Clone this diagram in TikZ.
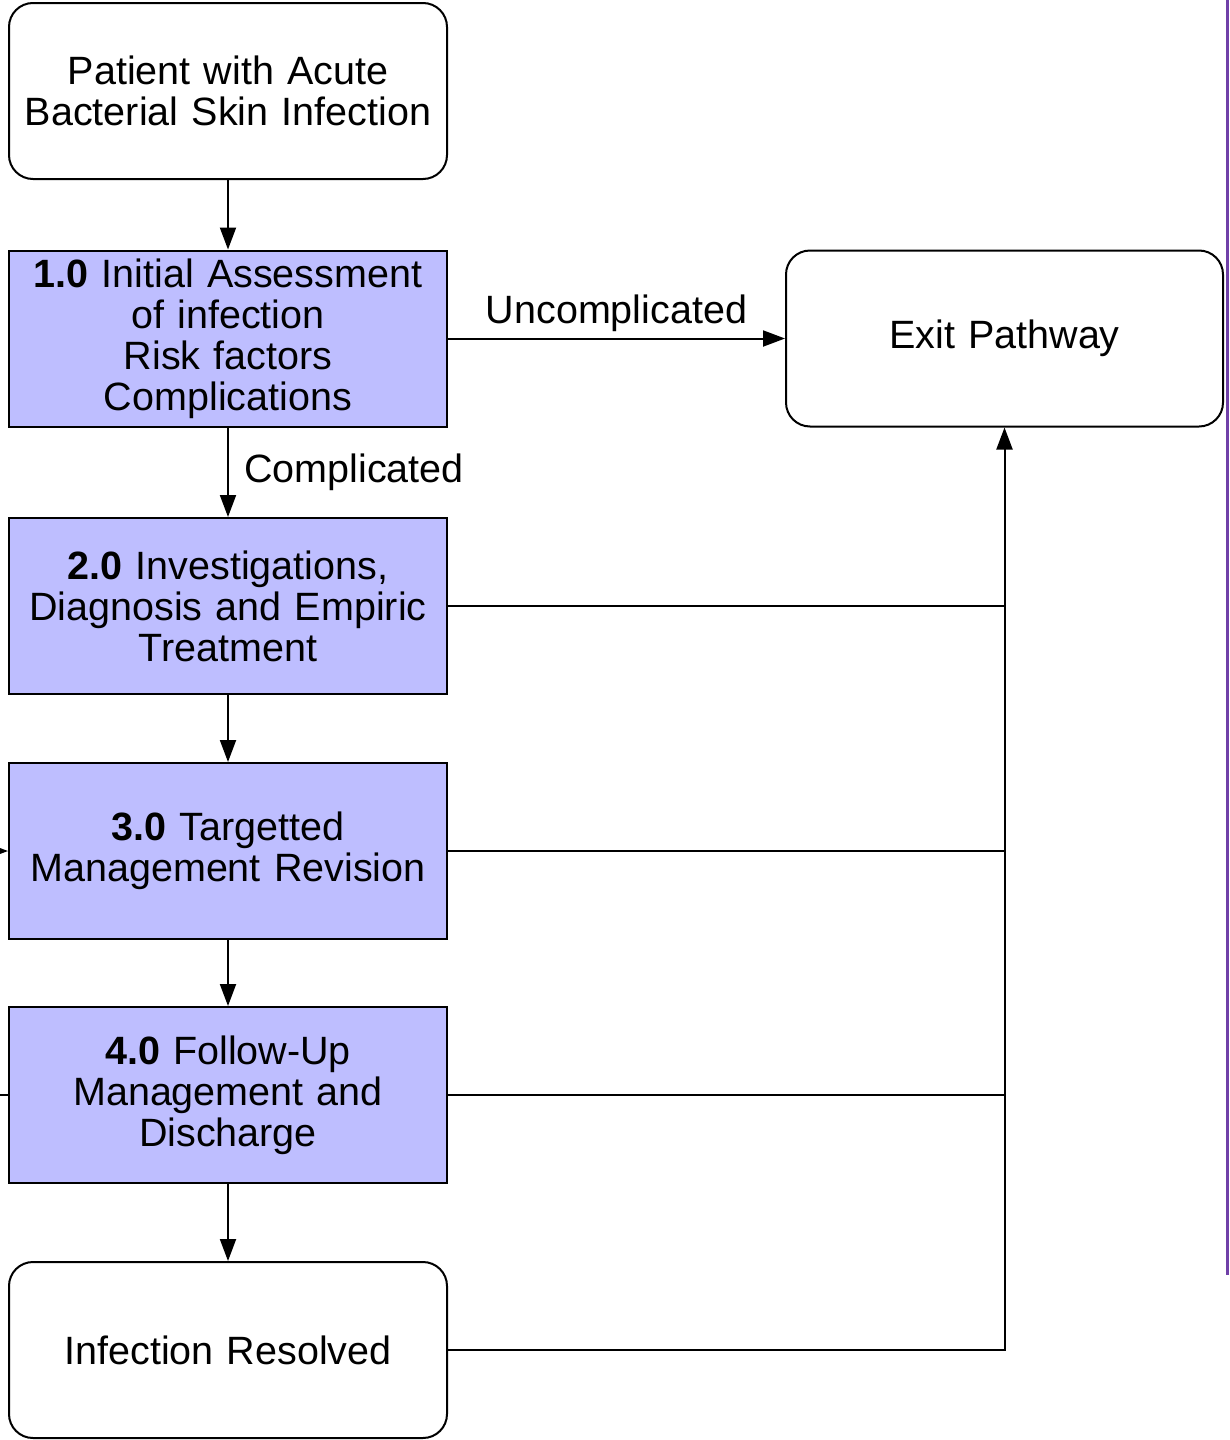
\documentclass[tikz,border=0pt]{standalone}
\usepackage{fontspec}
\setmainfont{Liberation Sans}
\usetikzlibrary{arrows.meta}
\definecolor{stepfill}{RGB}{190,190,255}
\definecolor{edgepurple}{RGB}{112,64,168}
\begin{document}
\begin{tikzpicture}[x=1pt,y=-1pt,
  font=\fontsize{39.5}{41}\selectfont,
  basebox/.style={draw=black, line width=2pt, minimum width=438pt, minimum height=176pt, inner sep=0pt, align=center, text width=434pt},
  roundbox/.style={basebox, rounded corners=24pt, fill=white},
  stepbox/.style={basebox, fill=stepfill},
  conn/.style={line width=2pt},
  arr/.style={conn, -{Triangle[length=22pt,width=16pt]}}
]
\useasboundingbox (0,0) rectangle (1229,1440);
\fill[edgepurple] (1226,0) rectangle (1229,1275);

\node[roundbox] (start) at (228,91) {Patient with Acute\\Bacterial Skin Infection};
\node[stepbox] (s1) at (228,338.5) {\textbf{1.0} Initial Assessment\\of infection\\Risk factors\\Complications};
\node[stepbox] (s2) at (228,606) {\textbf{2.0} Investigations,\\Diagnosis and Empiric\\Treatment};
\node[stepbox] (s3) at (228,851) {\textbf{3.0} Targetted\\Management Revision};
\node[stepbox] (s4) at (228,1095) {\textbf{4.0} Follow-Up\\Management and\\Discharge};
\node[roundbox] (res) at (228,1350) {Infection Resolved};
\node[roundbox, minimum width=437pt, text width=420pt] (exit) at (1004.5,338.5) {Exit Pathway};

\draw[arr] (start) -- (s1);
\draw[arr] (s1) -- node[right=12pt, anchor=west, pos=0.5] (lc) {Complicated} (s2);
\draw[arr] (s2) -- (s3);
\draw[arr] (s3) -- (s4);
\draw[arr] (s4) -- (res);
\draw[arr] (s1) -- node[above=2pt, pos=0.5] (lu) {Uncomplicated} (exit);

\draw[arr] (res.east) -| (exit.south);
\draw[conn] (s2.east) -- (s2.east -| exit.south);
\draw[conn] (s3.east) -- (s3.east -| exit.south);
\draw[conn] (s4.east) -- (s4.east -| exit.south);

\coordinate (in3) at (-40,851);
\coordinate (in4) at (-40,1095);
\draw[arr] (in3) -- (s3.west);
\draw[conn] (in4) -- (s4.west);
\end{tikzpicture}
\end{document}
